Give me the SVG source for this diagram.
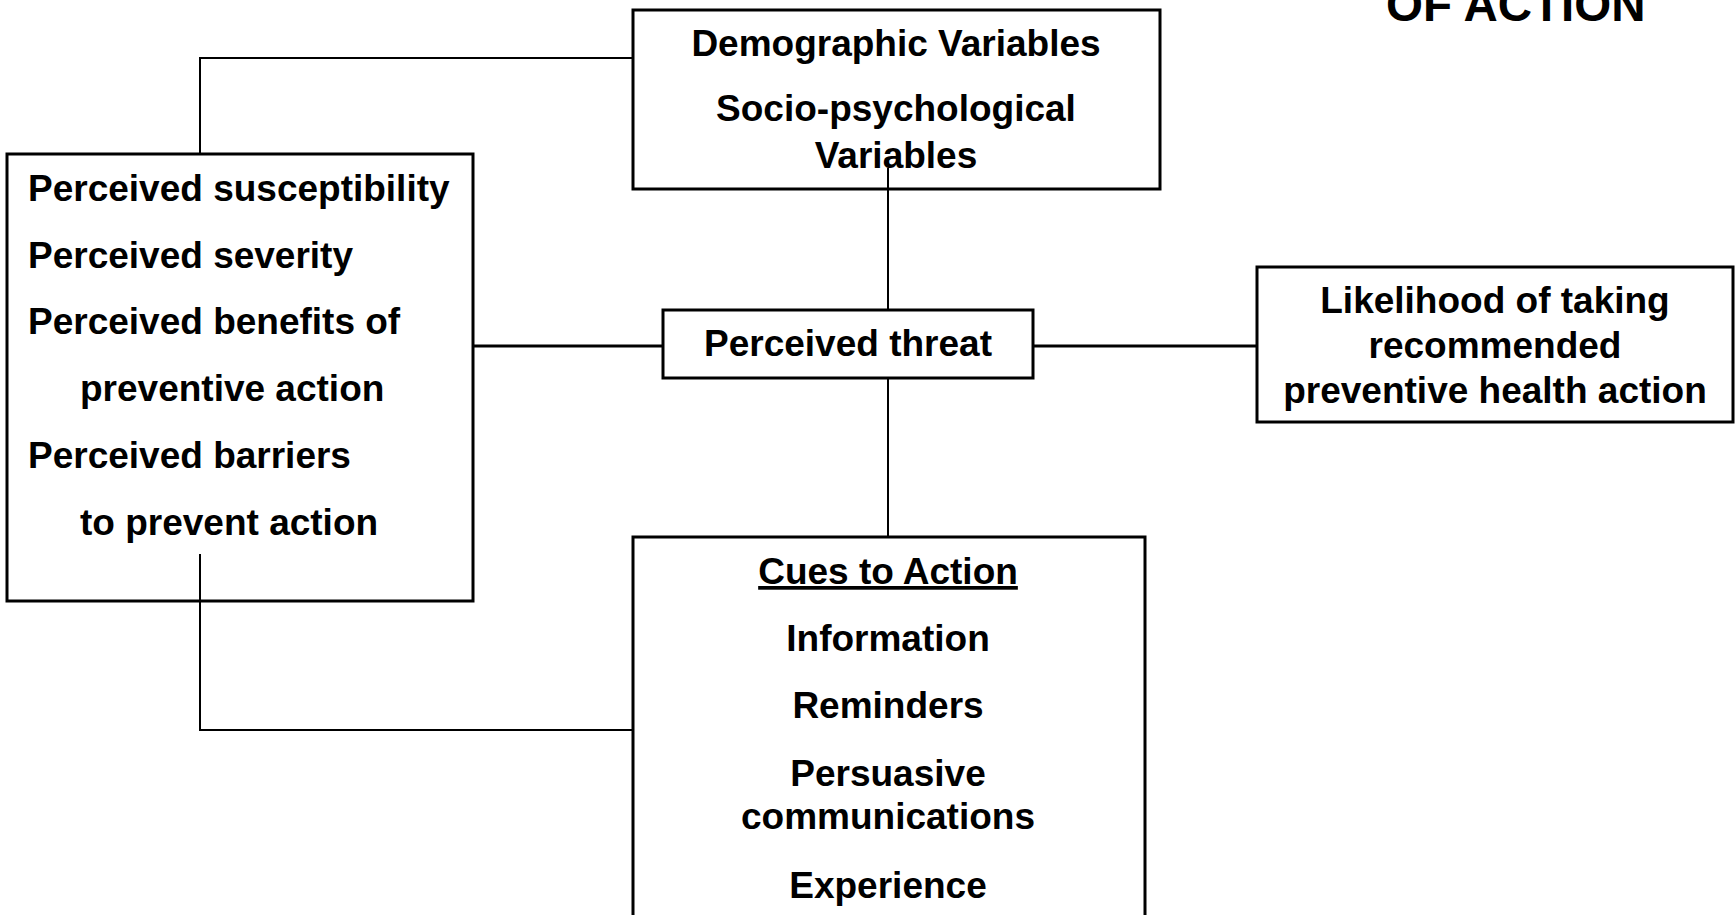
<svg xmlns="http://www.w3.org/2000/svg" width="1736" height="915" viewBox="0 0 1736 915">
<style>
.box{fill:#fff;stroke:#000;stroke-width:3}
.t{font-family:"Liberation Sans",Arial,sans-serif;font-weight:bold;font-size:37px;fill:#000}
.c{text-anchor:middle}
.thin{stroke:#000;stroke-width:2;fill:none}
.thick{stroke:#000;stroke-width:3;fill:none}
</style>
<rect width="1736" height="915" fill="#fff"/>
<text class="t" x="1386" y="21" style="font-size:47.5px">OF ACTION</text>
<g id="connectors">
<polyline class="thin" points="200,154 200,58 633,58"/>
<polyline class="thin" points="200,554 200,730 633,730"/>
<line class="thin" x1="888" y1="168" x2="888" y2="312"/>
<line class="thin" x1="888" y1="378" x2="888" y2="537"/>
<line class="thick" x1="473" y1="346" x2="663" y2="346"/>
<line class="thick" x1="1033" y1="346" x2="1257" y2="346"/>
</g>
<g id="demographic">
<rect class="box" x="633" y="10" width="527" height="179" style="fill:none"/>
<text class="t c" x="896" y="56">Demographic Variables</text>
<text class="t c" x="896" y="121">Socio-psychological</text>
<text class="t c" x="896" y="168">Variables</text>
</g>
<g id="perceptions">
<rect class="box" x="7" y="154" width="466" height="447" style="fill:none"/>
<text class="t" x="28" y="201">Perceived susceptibility</text>
<text class="t" x="28" y="268">Perceived severity</text>
<text class="t" x="28" y="334">Perceived benefits of</text>
<text class="t" x="80" y="401">preventive action</text>
<text class="t" x="28" y="468">Perceived barriers</text>
<text class="t" x="80" y="535">to prevent action</text>
</g>
<g id="threat">
<rect class="box" x="663" y="310" width="370" height="68"/>
<text class="t c" x="848" y="356">Perceived threat</text>
</g>
<g id="likelihood">
<rect class="box" x="1257" y="267" width="476" height="155"/>
<text class="t c" x="1495" y="313">Likelihood of taking</text>
<text class="t c" x="1495" y="358">recommended</text>
<text class="t c" x="1495" y="403">preventive health action</text>
</g>
<g id="cues">
<rect class="box" x="633" y="537" width="512" height="400"/>
<text class="t c" x="888" y="584" text-decoration="underline">Cues to Action</text>
<text class="t c" x="888" y="651">Information</text>
<text class="t c" x="888" y="718">Reminders</text>
<text class="t c" x="888" y="786">Persuasive</text>
<text class="t c" x="888" y="829">communications</text>
<text class="t c" x="888" y="898">Experience</text>
</g>
</svg>
